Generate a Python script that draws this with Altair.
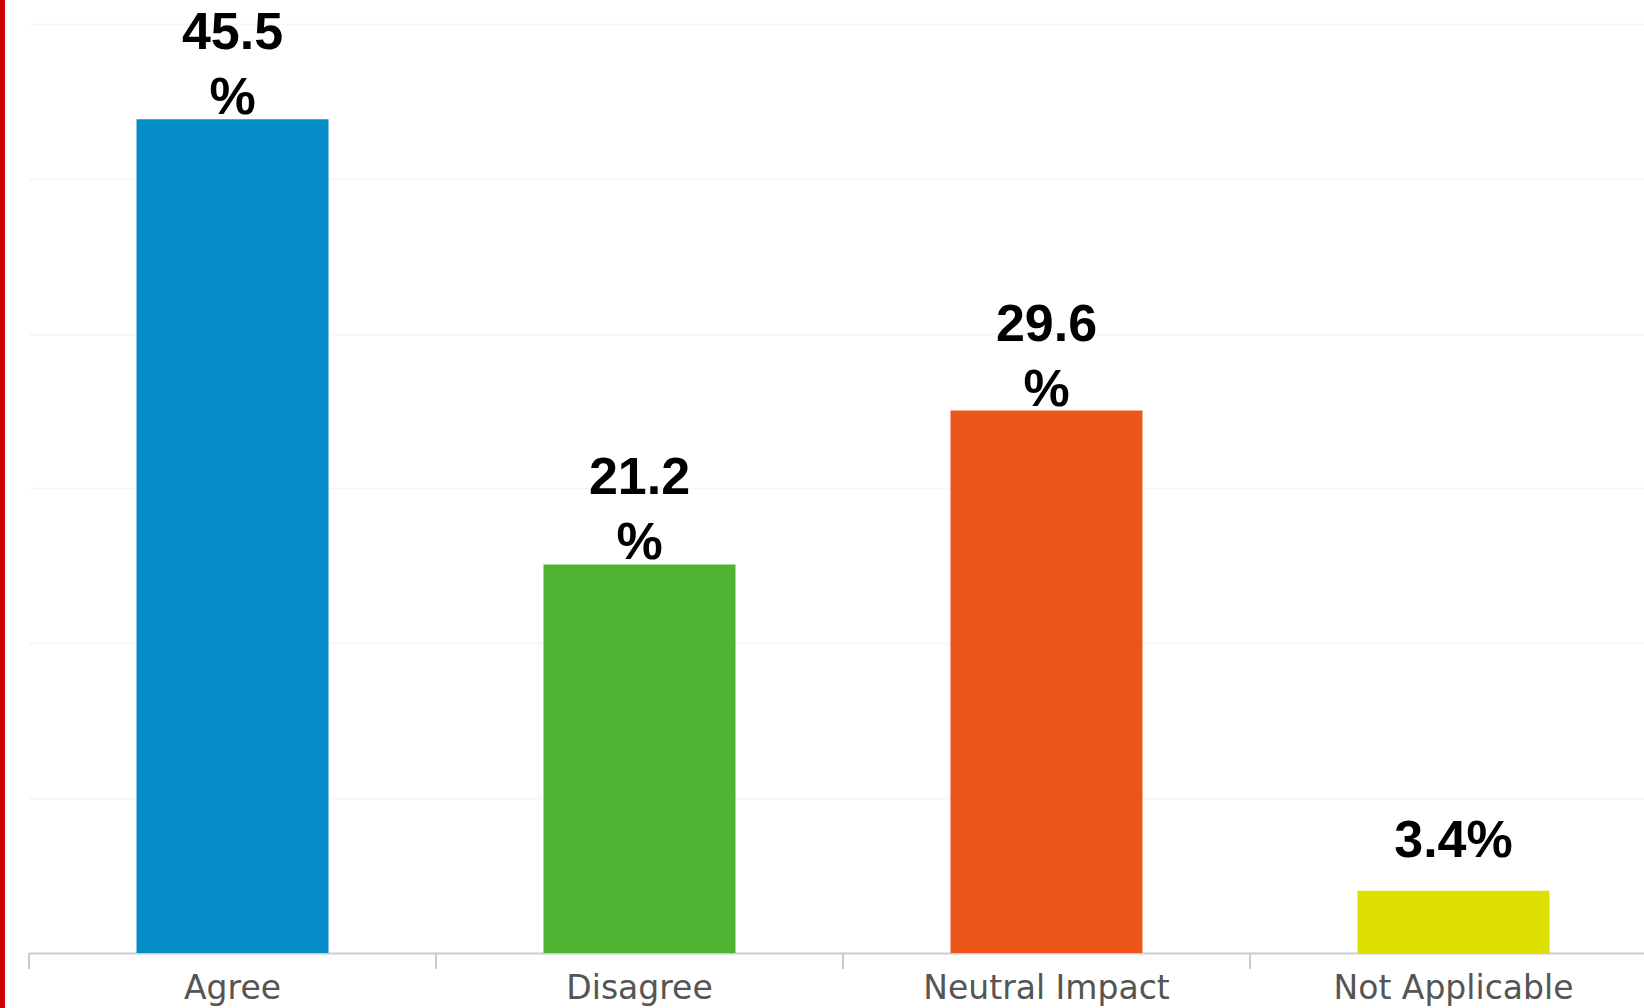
import altair as alt
import pandas as pd

categories = ["Agree", "Disagree", "Neutral Impact", "Not Applicable"]
values = [45.5, 21.2, 29.6, 3.4]
labels = ["45.5\n%", "21.2\n%", "29.6\n%", "3.4%"]
colors = ["#058DC7", "#50B432", "#ED561B", "#DDDF00"]
grid_values = [8.45, 16.9, 25.35, 33.8, 42.25, 50.7]

df = pd.DataFrame({"cat": categories, "value": values, "label": labels})

W, H = 1615, 953
STEP = 407

xscale = alt.Scale(domain=categories, range=[0, STEP * len(categories)], paddingInner=0, paddingOuter=0)
yscale = alt.Scale(domain=[0, 52], nice=False)

base = alt.Chart(df)

bars = base.mark_bar(width=192).encode(
    x=alt.X("cat:N", scale=xscale, sort=categories, title=None,
            axis=alt.Axis(labelAngle=0, ticks=False, domain=True, domainColor="#c5ccd6",
                          domainWidth=2, labelFont="DejaVu Sans", labelFontSize=33,
                          labelColor="#555555", labelBaseline="alphabetic", labelPadding=45,
                          labelLimit=0, grid=False)),
    y=alt.Y("value:Q", scale=yscale, title=None,
            axis=alt.Axis(values=grid_values, labels=False, ticks=False, domain=False,
                          grid=True, gridColor="#f6f6f6", gridWidth=2)),
    color=alt.Color("cat:N", scale=alt.Scale(domain=categories, range=colors), legend=None),
)

ticks = base.mark_rule(color="#c5ccd6", strokeWidth=2).encode(
    x=alt.X("cat:N", scale=xscale, sort=categories, bandPosition=0),
    y=alt.value(H),
    y2=alt.value(H + 16),
)

text_multi = base.transform_filter("indexof(datum.label, '\\n') >= 0").mark_text(
    font="Liberation Sans", fontWeight="bold", fontSize=52, color="#000000",
    baseline="alphabetic", align="center", lineBreak="\n", lineHeight=65, dy=-70,
).encode(
    x=alt.X("cat:N", scale=xscale, sort=categories),
    y=alt.Y("value:Q", scale=yscale),
    text="label:N",
)

text_single = base.transform_filter("indexof(datum.label, '\\n') < 0").mark_text(
    font="Liberation Sans", fontWeight="bold", fontSize=52, color="#000000",
    baseline="alphabetic", align="center", dy=-34,
).encode(
    x=alt.X("cat:N", scale=xscale, sort=categories),
    y=alt.Y("value:Q", scale=yscale),
    text="label:N",
)

red_edge = base.mark_rule(color="#cc0000", strokeWidth=5).encode(
    x=alt.value(-27), y=alt.value(-10), y2=alt.value(H + 60)
)

chart = alt.layer(bars, ticks, text_multi, text_single, red_edge).properties(
    width=W, height=H,
    autosize=alt.AutoSizeParams(type="none"),
    padding={"left": 29, "top": 0, "right": 0, "bottom": 55},
    background="white",
).configure_view(stroke=None)

chart.save("out.html", embed_options={"renderer": "svg", "actions": False})
